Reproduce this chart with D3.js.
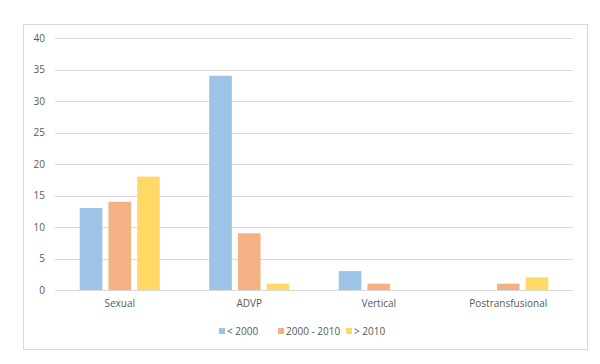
<!DOCTYPE html>
<html>
<head>
<meta charset="utf-8">
<script src="https://cdn.jsdelivr.net/npm/d3@7"></script>
<style>
  body { margin: 0; background: #fff; }
  text { font-family: "Open Sans", sans-serif; fill: #595959; }
</style>
</head>
<body>
<script>
// data
var categories = ["Sexual", "ADVP", "Vertical", "Postransfusional"];
var seriesNames = ["< 2000", "2000 - 2010", "> 2010"];
var seriesBefore2000 = [13, 34, 3, 0];
var series2000to2010 = [14, 9, 1, 1];
var seriesAfter2010 = [18, 1, 0, 2];
var yTicks = [0, 5, 10, 15, 20, 25, 30, 35, 40];
var colors = ["#9DC3E6", "#F4B183", "#FFD966"];

var allSeries = [seriesBefore2000, series2000to2010, seriesAfter2010];

var width = 600;
var height = 364;
var plot = {left: 55, right: 573, top: 38, bottom: 290};

var svg = d3.select("body")
	.append("svg")
		.attr("width", width)
		.attr("height", height);

// chart frame
svg.append("rect")
	.attr("x", 23.5)
	.attr("y", 24.5)
	.attr("width", 564)
	.attr("height", 325)
	.attr("fill", "#fff")
	.attr("stroke", "#d9d9d9");

var x0 = d3.scaleBand()
	.domain(categories)
	.range([plot.left, plot.right])
	.padding(0);

var groupPad = (x0.bandwidth() - 80) / 2;
var x1 = d3.scaleBand()
	.domain(d3.range(seriesNames.length))
	.range([groupPad, x0.bandwidth() - groupPad])
	.paddingInner(0.213)
	.paddingOuter(0);

var y = d3.scaleLinear()
	.domain([0, 40])
	.range([plot.bottom, plot.top]);

// gridlines
svg.append("g")
	.selectAll("line")
	.data(yTicks)
	.enter()
	.append("line")
		.attr("x1", plot.left)
		.attr("x2", plot.right)
		.attr("y1", (d) => Math.round(y(d)) + 0.5)
		.attr("y2", (d) => Math.round(y(d)) + 0.5)
		.attr("stroke", "#d9d9d9");

// y axis labels
var leftAxis = d3.axisLeft(y).tickValues(yTicks).tickSize(0).tickPadding(10);
var yAxis = svg.append("g")
	.attr("transform", "translate(" + plot.left + ",0)")
	.call(leftAxis);
yAxis.select(".domain").remove();
yAxis.selectAll("text")
	.attr("font-size", "10px")
	.style("font-family", "'Open Sans', sans-serif")
	.attr("fill", "#595959");

// bars
var rows = categories.map((c, i) => {
	return {cat: c, vals: allSeries.map((s, j) => ({s: j, v: s[i]}))};
});

var groups = svg.selectAll(".group")
	.data(rows)
	.enter()
	.append("g")
		.attr("class", "group")
		.attr("transform", (d) => "translate(" + x0(d.cat) + ",0)");

groups.selectAll("rect")
	.data((d) => d.vals.filter((e) => e.v > 0))
	.enter()
	.append("rect")
		.attr("x", (d) => x1(d.s))
		.attr("y", (d) => y(d.v))
		.attr("width", x1.bandwidth())
		.attr("height", (d) => y(0) - y(d.v))
		.attr("fill", (d) => colors[d.s]);

// x axis labels
var bottomAxis = d3.axisBottom(x0).tickSize(0).tickPadding(10);
var xAxis = svg.append("g")
	.attr("transform", "translate(0," + plot.bottom + ")")
	.call(bottomAxis);
xAxis.select(".domain").remove();
xAxis.selectAll("text")
	.attr("font-size", "10px")
	.style("font-family", "'Open Sans', sans-serif")
	.attr("fill", "#595959");

// legend
var legendX = [219, 278, 346];
var legend = svg.selectAll(".legend")
	.data(seriesNames)
	.enter()
	.append("g")
		.attr("class", "legend")
		.attr("transform", (d, i) => "translate(" + legendX[i] + ",328)");

legend.append("rect")
	.attr("width", 6)
	.attr("height", 6)
	.attr("fill", (d, i) => colors[i]);

legend.append("text")
	.attr("x", 8)
	.attr("y", 7)
	.attr("font-size", "10px")
	.text((d) => d);
</script>
</body>
</html>
